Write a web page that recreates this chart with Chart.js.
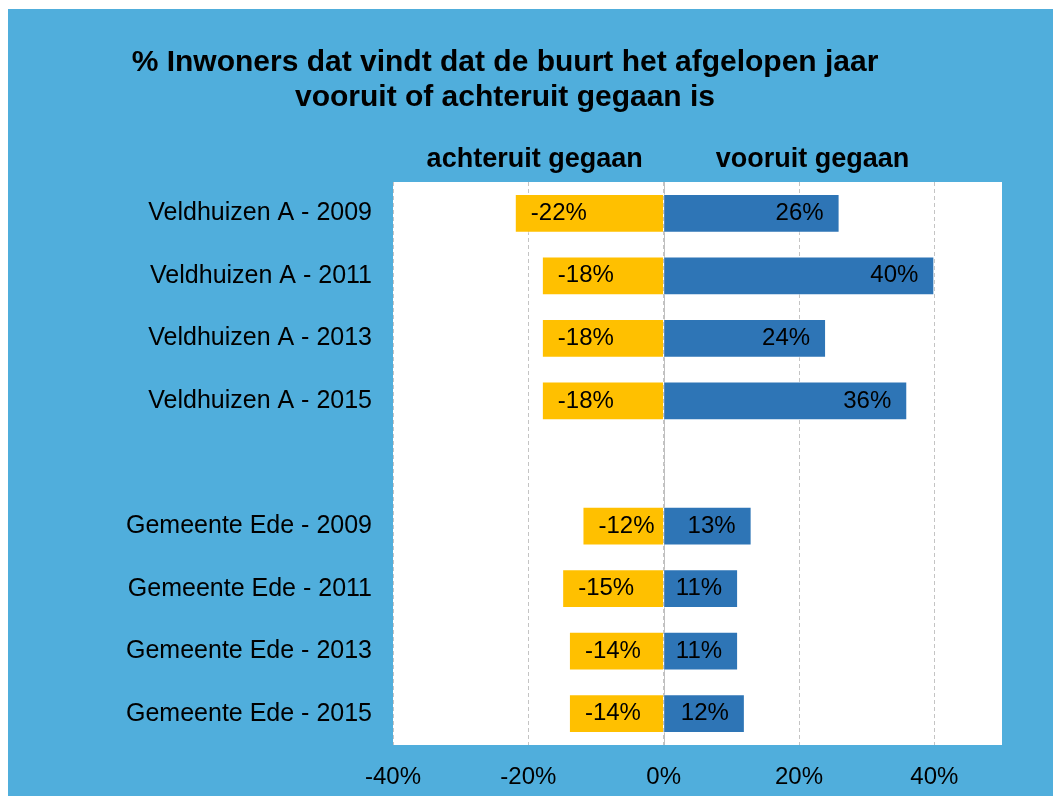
<!DOCTYPE html>
<html>
<head>
<meta charset="utf-8">
<script src="https://cdn.jsdelivr.net/npm/chart.js@4.4.1/dist/chart.umd.min.js"></script>
<style>
  html, body { margin: 0; padding: 0; background: #fff; }
  #wrap { position: absolute; left: 8px; top: 9px; width: 1045px; height: 787px; }
</style>
</head>
<body>
<div id="wrap"><canvas id="buurtChart"></canvas></div>
<script>
const categories = [
  'Veldhuizen A - 2009', 'Veldhuizen A - 2011', 'Veldhuizen A - 2013', 'Veldhuizen A - 2015',
  '',
  'Gemeente Ede - 2009', 'Gemeente Ede - 2011', 'Gemeente Ede - 2013', 'Gemeente Ede - 2015'
];
const achteruit = [-22, -18, -18, -18, null, -12, -15, -14, -14];
const vooruit = [26, 40, 24, 36, null, 13, 11, 11, 12];
const xTicks = [-40, -20, 0, 20, 40];
const titleLines = ['% Inwoners dat vindt dat de buurt het afgelopen jaar', 'vooruit of achteruit gegaan is'];
const headers = ['achteruit gegaan', 'vooruit gegaan'];

const FONT = '"Liberation Sans", Arial, sans-serif';

// background, titles, zero line and value labels
const decor = {
  id: 'decor',
  beforeDraw(chart) {
    const { ctx, chartArea: a, width, height } = chart;
    ctx.save();
    ctx.fillStyle = '#50AEDC';
    ctx.fillRect(0, 0, width, height);
    ctx.fillStyle = '#fff';
    ctx.fillRect(a.left, a.top, a.right - a.left, a.bottom - a.top);

    ctx.fillStyle = '#000';
    ctx.textBaseline = 'alphabetic';
    ctx.font = 'bold 30px ' + FONT;
    ctx.textAlign = 'center';
    ctx.fillText(titleLines[0], 497, 62);
    ctx.fillText(titleLines[1], 497, 97);

    const x0 = chart.scales.x.getPixelForValue(0);
    ctx.font = 'bold 27px ' + FONT;
    ctx.textAlign = 'right';
    ctx.fillText(headers[0], x0 - 21, 158);
    ctx.textAlign = 'left';
    ctx.fillText(headers[1], x0 + 52, 158);
    ctx.restore();
  },
  beforeDatasetsDraw(chart) {
    const { ctx, chartArea: a } = chart;
    const x0 = Math.round(chart.scales.x.getPixelForValue(0)) + 0.5;
    ctx.save();
    ctx.strokeStyle = '#c0c0c0';
    ctx.lineWidth = 1;
    ctx.beginPath();
    ctx.moveTo(x0, a.top);
    ctx.lineTo(x0, a.bottom);
    ctx.stroke();
    ctx.restore();
  },
  afterDatasetsDraw(chart) {
    const { ctx } = chart;
    ctx.save();
    ctx.fillStyle = '#000';
    ctx.font = '24px ' + FONT;
    ctx.textBaseline = 'middle';
    chart.data.datasets.forEach((ds, di) => {
      chart.getDatasetMeta(di).data.forEach((bar, i) => {
        const v = ds.data[i];
        if (v == null) return;
        const { x, y } = bar.getProps(['x', 'y'], true);
        ctx.textAlign = v < 0 ? 'left' : 'right';
        ctx.fillText(v + '%', v < 0 ? x + 16 : x - 16, y);
      });
    });
    ctx.restore();
  }
};

new Chart(document.getElementById('buurtChart'), {
  type: 'bar',
  data: {
    labels: categories,
    datasets: [
      {
        label: headers[0],
        data: achteruit,
        backgroundColor: '#FFC000',
        borderColor: 'rgba(255,255,255,0.6)',
        borderWidth: 1,
        barPercentage: 0.62,
        categoryPercentage: 1
      },
      {
        label: headers[1],
        data: vooruit,
        backgroundColor: '#2E75B6',
        borderColor: 'rgba(255,255,255,0.6)',
        borderWidth: 1,
        barPercentage: 0.62,
        categoryPercentage: 1
      }
    ]
  },
  options: {
    indexAxis: 'y',
    responsive: true,
    maintainAspectRatio: false,
    animation: false,
    layout: { padding: { top: 173, right: 51, left: 0, bottom: 0 } },
    plugins: {
      legend: { display: false },
      title: { display: false },
      tooltip: { enabled: false }
    },
    scales: {
      x: {
        stacked: true,
        min: -40,
        max: 50,
        afterBuildTicks: s => { s.ticks = xTicks.map(v => ({ value: v })); },
        afterFit: s => { s.height = 51; },
        grid: { color: '#c4c4c4', lineWidth: 1, drawTicks: false },
        border: { display: false, dash: [4, 3] },
        ticks: {
          padding: 18,
          color: '#000',
          font: { size: 24, family: FONT },
          callback: v => v + '%'
        }
      },
      y: {
        stacked: true,
        afterFit: s => { s.width = 385; },
        grid: { display: false, drawTicks: false },
        border: { display: false },
        ticks: {
          padding: 21,
          color: '#000',
          font: { size: 25, family: FONT }
        }
      }
    }
  },
  plugins: [decor]
});
</script>
</body>
</html>
